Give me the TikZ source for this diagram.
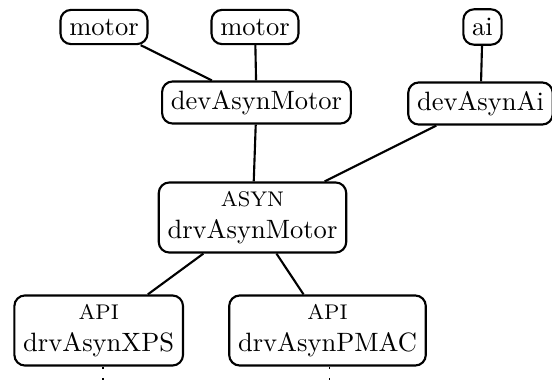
\documentclass[tikz,border=0pt]{standalone}
\begin{document}
\begin{tikzpicture}[x=0.377pt,y=-0.377pt,
  box/.style={draw,thick,rounded corners=4pt,align=center,inner sep=3.33pt},
  link/.style={thick},
  dotlink/.style={line width=0.75pt,dash pattern=on 0.75pt off 3.25pt}]
\useasboundingbox (0,0) rectangle (552,388);
\node[box] (m1) at (104,27) {motor};
\node[box] (m2) at (255,27) {motor};
\node[box] (ai) at (482.5,27) {ai};
\node[box] (devM) at (256.5,102.5) {devAsynMotor};
\node[box] (devAi) at (480.5,103.5) {devAsynAi};
\node[box] (drvM) at (252.5,217.5) {{\footnotesize ASYN}\\drvAsynMotor};
\node[box] (xps) at (98.7,330.5) {{\footnotesize API}\\drvAsynXPS};
\node[box] (pmac) at (327.5,330.5) {{\footnotesize API}\\drvAsynPMAC};
\coordinate (xs) at (102.7,367.3);
\coordinate (xe) at (102.7,398);
\coordinate (ps) at (329.5,367.3);
\coordinate (pe) at (329.5,398);
\draw[link] (m1) -- (devM);
\draw[link] (m2) -- (devM);
\draw[link] (ai) -- (devAi);
\draw[link] (devM) -- (drvM);
\draw[link] (devAi) -- (drvM);
\draw[link] (drvM) -- (xps);
\draw[link] (drvM) -- (pmac);
\draw[dotlink] (xs) -- (xe);
\draw[dotlink] (ps) -- (pe);
\end{tikzpicture}
\end{document}
